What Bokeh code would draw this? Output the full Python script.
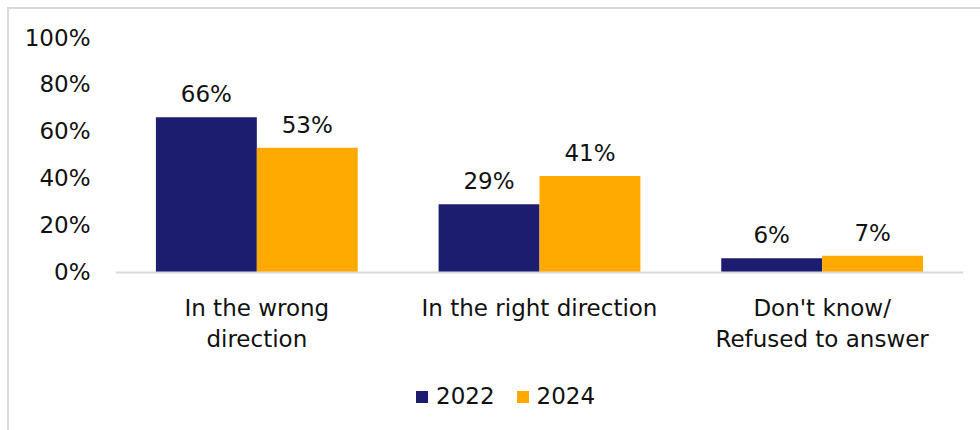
from bokeh.plotting import figure
from bokeh.models import (ColumnDataSource, FactorRange, Legend, LegendItem,
                          PrintfTickFormatter, FixedTicker, LabelSet, Range1d)
from bokeh.transform import dodge
from bokeh.core.properties import value
from bokeh.embed import file_html
from bokeh.resources import INLINE

categories = ["In the wrong\ndirection", "In the right direction", "Don't know/\nRefused to answer"]
years = ["2022", "2024"]
values_2022 = [66, 29, 6]
values_2024 = [53, 41, 7]
y_ticks = [0, 20, 40, 60, 80, 100]

COL_2022 = "#1D1D70"
COL_2024 = "#FFAA00"
FONT = "DejaVu Sans"
TXT = "#111111"

src = ColumnDataSource(dict(
    cat=categories,
    v2022=values_2022,
    v2024=values_2024,
    l2022=[f"{v}%" for v in values_2022],
    l2024=[f"{v}%" for v in values_2024],
))

W, H = 980, 430
TOP, ZERO_Y = 37.5, 272.0
y_start = -(H - ZERO_Y) / (ZERO_Y - TOP) * 100

p = figure(x_range=FactorRange(*categories), y_range=Range1d(y_start, 100),
           width=W, height=H, output_backend="svg", toolbar_location=None,
           min_border_left=115, min_border_right=17, min_border_top=37,
           min_border_bottom=0)
p.styles = {"box-shadow": "inset 7px 7px 0 0 #FFFFFF, inset 9px 9px 0 0 #D9D9D9"}
p.border_fill_color = None
p.outline_line_color = None
p.grid.visible = False

off = 0.1785
bw = 0.357
r1 = p.vbar(x=dodge("cat", -off, range=p.x_range), top="v2022", bottom=0, width=bw,
            source=src, fill_color=COL_2022, line_color=None)
r2 = p.vbar(x=dodge("cat", off, range=p.x_range), top="v2024", bottom=0, width=bw,
            source=src, fill_color=COL_2024, line_color=None)

for col, lab, o in (("v2022", "l2022", -off), ("v2024", "l2024", off)):
    ls = LabelSet(x=dodge("cat", o, range=p.x_range), y=col, text=lab, source=src,
                  text_align="center", text_baseline="alphabetic", y_offset=15,
                  text_font=value(FONT), text_font_size="23px", text_color=TXT)
    p.add_layout(ls)

p.yaxis.ticker = FixedTicker(ticks=y_ticks)
p.yaxis.formatter = PrintfTickFormatter(format="%d%%")
p.yaxis.axis_line_color = None
p.yaxis.major_tick_line_color = None
p.yaxis.minor_tick_line_color = None
p.yaxis.major_tick_out = 0
p.yaxis.major_label_standoff = 25
p.yaxis.major_label_text_font = FONT
p.yaxis.major_label_text_font_size = "23px"
p.yaxis.major_label_text_color = TXT

p.xaxis.fixed_location = 0
p.xaxis.axis_line_color = "#D9D9D9"
p.xaxis.axis_line_width = 2
p.xaxis.major_tick_line_color = None
p.xaxis.minor_tick_line_color = None
p.xaxis.major_tick_out = 0
p.xaxis.major_label_standoff = 23
p.xaxis.major_label_text_font = FONT
p.xaxis.major_label_text_font_size = "23px"
p.xaxis.major_label_text_color = TXT
p.xaxis.major_label_text_line_height = 1.2

legend = Legend(items=[LegendItem(label=years[0], renderers=[r1]),
                       LegendItem(label=years[1], renderers=[r2])],
                orientation="horizontal", location=(299, 21),
                glyph_width=15, glyph_height=15, label_standoff=7, spacing=20,
                padding=5, margin=0, border_line_color=None,
                background_fill_alpha=0,
                label_text_font=FONT, label_text_font_size="23px",
                label_text_color=TXT)
p.add_layout(legend, "center")

open("out.html", "w").write(file_html(p, INLINE))
